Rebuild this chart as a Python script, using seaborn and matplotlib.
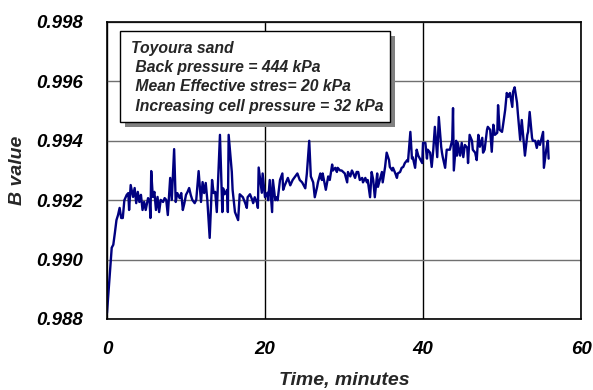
import numpy as np
import pandas as pd
import seaborn as sns
import matplotlib
matplotlib.use("Agg")
import matplotlib.pyplot as plt
from matplotlib.ticker import MultipleLocator, FormatStrFormatter
from matplotlib.patches import Rectangle

time_min = [
    0.0, 0.6, 0.8, 1.0, 1.2, 1.4, 1.6, 1.8, 2.0, 2.2, 2.5, 2.7, 2.8, 3.0, 3.3, 3.5, 3.7, 3.9,
    4.1, 4.3, 4.5, 4.7, 4.9, 5.2, 5.4, 5.5, 5.6, 5.8, 6.0, 6.2, 6.4, 6.6, 6.8, 7.1, 7.3, 7.5,
    7.7, 8.0, 8.2, 8.5, 8.7, 8.9, 9.2, 9.4, 9.6, 9.8, 10.0, 10.2, 10.4, 10.6, 10.8, 11.1, 11.3,
    11.6, 11.9, 12.1, 12.3, 12.5, 12.7, 13.0, 13.3, 13.5, 13.7, 13.9, 14.3, 14.6, 14.7, 14.9,
    15.2, 15.3, 15.4, 15.8, 15.9, 16.2, 16.5, 16.6, 16.8, 17.2, 17.5, 17.7, 17.8, 18.1, 18.4,
    18.5, 18.7, 19.0, 19.1, 19.2, 19.6, 19.7, 20.0, 20.3, 20.4, 20.6, 20.9, 21.0, 21.3, 21.5,
    21.6, 21.9, 22.2, 22.3, 22.5, 22.9, 23.2, 23.5, 24.1, 24.4, 24.7, 25.1, 25.3, 25.6, 25.8,
    26.1, 26.3, 26.6, 26.7, 27.0, 27.2, 27.3, 27.7, 28.0, 28.2, 28.5, 28.6, 28.9, 29.1, 29.2,
    29.5, 29.7, 29.9, 30.1, 30.4, 30.5, 30.8, 31.0, 31.1, 31.4, 31.6, 31.8, 32.0, 32.3, 32.4,
    32.7, 32.9, 33.0, 33.3, 33.5, 33.7, 33.9, 34.2, 34.3, 34.6, 34.8, 34.9, 35.2, 35.4, 35.7,
    35.8, 36.1, 36.2, 36.5, 36.7, 36.8, 37.1, 37.3, 37.5, 37.7, 38.0, 38.1, 38.4, 38.6, 38.7,
    39.0, 39.2, 39.4, 39.6, 39.9, 40.0, 40.3, 40.5, 40.6, 40.9, 41.1, 41.3, 41.5, 41.8, 42.0,
    42.3, 42.4, 42.5, 42.8, 43.0, 43.2, 43.4, 43.7, 43.8, 43.9, 44.2, 44.3, 44.4, 44.7, 44.9,
    45.1, 45.3, 45.6, 45.7, 45.9, 46.2, 46.3, 46.6, 46.8, 47.0, 47.2, 47.5, 47.6, 47.8, 48.1,
    48.2, 48.5, 48.7, 48.9, 49.1, 49.4, 49.5, 49.7, 50.0, 50.1, 50.4, 50.6, 50.8, 51.0, 51.3,
    51.4, 51.6, 51.9, 52.0, 52.3, 52.5, 52.7, 52.9, 53.2, 53.3, 53.5, 53.8, 53.9, 54.2, 54.4,
    54.6, 54.8, 55.2, 55.3, 55.6, 55.8, 55.9,
]
b_value = [
    0.9882, 0.9904, 0.9905, 0.9909, 0.99133, 0.9915, 0.99174, 0.9914, 0.9914, 0.9920, 0.99218,
    0.99224, 0.99167, 0.99251, 0.99211, 0.99241, 0.9919, 0.99228,
    0.99194, 0.99218, 0.99167, 0.99194, 0.99167, 0.99207, 0.99194, 0.9914, 0.99298, 0.99211,
    0.99228, 0.99167, 0.99211, 0.9916, 0.99201, 0.99194, 0.99207, 0.99201,
    0.9915, 0.99275, 0.99201, 0.99372, 0.99194, 0.99224, 0.99207, 0.99224, 0.99167, 0.9919,
    0.99218, 0.99228, 0.99241, 0.99218, 0.99201, 0.9919, 0.99201,
    0.99298, 0.99194, 0.99261, 0.99224, 0.99258, 0.99201, 0.99073, 0.99268, 0.99224, 0.99228,
    0.9916, 0.9942, 0.9916, 0.9924, 0.9922,
    0.99235, 0.9916, 0.9942, 0.99295, 0.99235, 0.9916, 0.9914, 0.99133, 0.9922, 0.9921, 0.9919,
    0.99174, 0.9921, 0.9922, 0.9920,
    0.9919, 0.9921, 0.9919, 0.99174, 0.9931, 0.99225, 0.9929, 0.9921, 0.99225, 0.9920, 0.99268,
    0.9916, 0.99268, 0.9920, 0.9921,
    0.9920, 0.99268, 0.9929, 0.99235, 0.9925, 0.99275, 0.9925, 0.99268, 0.9929, 0.99268,
    0.9926, 0.9924, 0.9929, 0.9940, 0.9928,
    0.9926, 0.9921, 0.99245, 0.9926, 0.9929, 0.99268, 0.9929, 0.99235, 0.9928, 0.99268, 0.9932,
    0.9930, 0.99309, 0.99295, 0.99309,
    0.9930, 0.9930, 0.99295, 0.9929, 0.9926, 0.99295, 0.9928, 0.9930, 0.99295, 0.99275,
    0.99295, 0.99295, 0.99268, 0.99275, 0.9926,
    0.99275, 0.9926, 0.99268, 0.9921, 0.99295, 0.99268, 0.9921, 0.9929, 0.99245, 0.99275,
    0.99295, 0.9926, 0.99312, 0.9936, 0.99335,
    0.99312, 0.9930, 0.99309, 0.9929, 0.99275, 0.9929, 0.99295, 0.99309, 0.99312, 0.99325,
    0.99335, 0.9933, 0.9943, 0.9934, 0.99345,
    0.99309, 0.9937, 0.9935, 0.9934, 0.99325, 0.99393, 0.99393, 0.9934, 0.9937, 0.9936,
    0.99312, 0.9937, 0.99447, 0.99345, 0.9948,
    0.9938, 0.9936, 0.99345, 0.99309, 0.9937, 0.9937, 0.9937, 0.99403, 0.9951, 0.9930, 0.9940,
    0.9935, 0.99393, 0.9935, 0.99393,
    0.99345, 0.99386, 0.99376, 0.99325, 0.9942, 0.9940, 0.9937, 0.9936, 0.99335, 0.9942,
    0.9938, 0.9941, 0.9936, 0.9937, 0.99437,
    0.99447, 0.99437, 0.99363, 0.99454, 0.9942, 0.99427, 0.9952, 0.99437, 0.9943, 0.99447,
    0.99504, 0.99561, 0.99548, 0.99561, 0.99514,
    0.99565, 0.9958, 0.99528, 0.99494, 0.99403, 0.9947, 0.9941, 0.9935, 0.9942, 0.9943,
    0.99497, 0.9941, 0.9940, 0.9940, 0.99376,
    0.9940, 0.99386, 0.9943, 0.99309, 0.9937, 0.9940, 0.9934,
]

info_lines = [
    "Toyoura sand",
    " Back pressure = 444 kPa",
    " Mean Effective stres= 20 kPa",
    " Increasing cell pressure = 32 kPa",
]

df = pd.DataFrame({"Time, minutes": time_min, "B value": b_value})

sns.set_style("white")
plt.rcParams["font.family"] = ["Liberation Sans", "DejaVu Sans"]

fig = plt.figure(figsize=(5.93, 3.90), dpi=100)
ax = fig.add_axes([0.1804, 0.1821, 0.7994, 0.7615])

sns.lineplot(data=df, x="Time, minutes", y="B value", color="#000080", lw=1.7,
             estimator=None, sort=False, ax=ax)

ax.set_xlim(0, 60)
ax.set_ylim(0.988, 0.998)
ax.xaxis.set_major_locator(MultipleLocator(20))
ax.xaxis.set_minor_locator(MultipleLocator(4))
ax.yaxis.set_major_locator(MultipleLocator(0.002))
ax.yaxis.set_minor_locator(MultipleLocator(0.0004))
ax.yaxis.set_major_formatter(FormatStrFormatter("%.3f"))

ax.yaxis.grid(True, which="major", color="#707070", lw=1.0)
ax.xaxis.grid(True, which="major", color="black", lw=1.0)
ax.set_axisbelow(True)

for s in ax.spines.values():
    s.set_visible(True)
    s.set_color("black")
    s.set_linewidth(1.2)

ax.tick_params(axis="both", which="both", direction="in", colors="black",
               labelcolor="black")
ax.tick_params(axis="y", which="major", length=4, width=1, pad=17)
ax.tick_params(axis="y", which="minor", length=3, width=1)
ax.tick_params(axis="x", which="major", length=4, width=1, pad=16)
ax.tick_params(axis="x", which="minor", length=4, width=1)
for lab in ax.get_xticklabels() + ax.get_yticklabels():
    lab.set_fontsize(13.5)
    lab.set_fontweight("bold")
    lab.set_fontstyle("italic")

ax.set_xlabel("Time, minutes", fontsize=14, fontweight="bold", fontstyle="italic", labelpad=10)
ax.set_ylabel("B value", fontsize=14, fontweight="bold", fontstyle="italic", labelpad=8)

# text box with a grey drop shadow
shadow = Rectangle((0.0375, 0.646), 0.570, 0.307, transform=ax.transAxes,
                   facecolor="#808080", edgecolor="none", zorder=4)
box = Rectangle((0.027, 0.663), 0.570, 0.307, transform=ax.transAxes,
                facecolor="white", edgecolor="black", lw=1.0, zorder=5)
ax.add_patch(shadow)
ax.add_patch(box)
for i, line in enumerate(info_lines):
    ax.text(0.051, 0.912 - i * 0.065, line, transform=ax.transAxes, fontsize=11.3,
            fontweight="bold", fontstyle="italic", va="center", ha="left", zorder=6)

fig.savefig("out.png", dpi=100)
